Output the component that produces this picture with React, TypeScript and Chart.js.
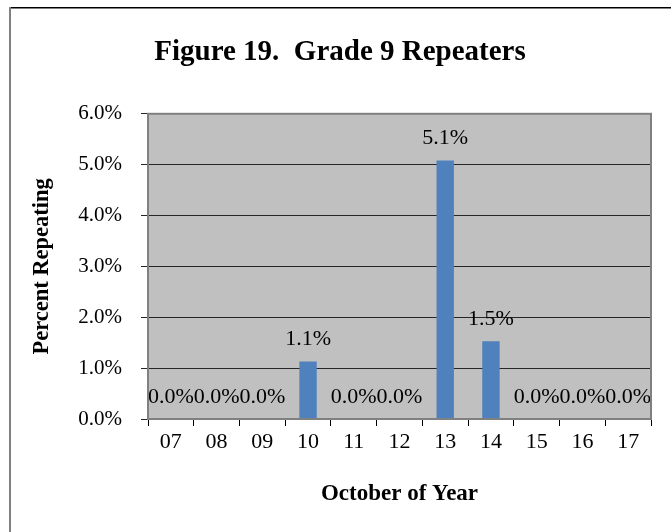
import React, { useEffect, useRef } from "react";
import { Chart, registerables } from "chart.js";

Chart.register(...registerables);

const categories = ["07", "08", "09", "10", "11", "12", "13", "14", "15", "16", "17"];
const percentRepeating = [0, 0, 0, 1.13, 0, 0, 5.08, 1.53, 0, 0, 0];
const yTicks = [0, 1, 2, 3, 4, 5, 6];

const chartTitle = "Figure 19.  Grade 9 Repeaters";
const yTitle = "Percent Repeating";
const xTitle = "October of Year";

const SERIF = "'Liberation Serif', 'Times New Roman', serif";

const framePlugin = {
  id: "frameAndBg",
  beforeDraw(chart: any) {
    const { ctx, chartArea } = chart;
    ctx.save();
    ctx.fillStyle = "#ffffff";
    ctx.fillRect(0, 0, chart.width, chart.height);
    ctx.fillStyle = "#C0C0C0";
    ctx.fillRect(chartArea.left, chartArea.top, chartArea.right - chartArea.left, chartArea.bottom - chartArea.top);
    ctx.restore();
  },
  afterDraw(chart: any) {
    const { ctx, chartArea } = chart;
    ctx.save();
    ctx.strokeStyle = "#808080";
    ctx.lineWidth = 2;
    ctx.strokeRect(chartArea.left, chartArea.top, chartArea.right - chartArea.left, chartArea.bottom - chartArea.top);
    ctx.strokeStyle = "#000000";
    ctx.lineWidth = 1.5;
    ctx.beginPath();
    ctx.moveTo(9, 7.75);
    ctx.lineTo(chart.width, 7.75);
    ctx.stroke();
    ctx.strokeStyle = "#808080";
    ctx.lineWidth = 2;
    ctx.beginPath();
    ctx.moveTo(10, 7);
    ctx.lineTo(10, chart.height);
    ctx.stroke();
    ctx.restore();
  },
};

const labelPlugin = {
  id: "valueLabels",
  afterDatasetsDraw(chart: any) {
    const { ctx } = chart;
    const meta = chart.getDatasetMeta(0);
    const data = chart.data.datasets[0].data as number[];
    ctx.save();
    ctx.font = `22px ${SERIF}`;
    ctx.fillStyle = "#000000";
    ctx.textAlign = "center";
    ctx.textBaseline = "middle";
    meta.data.forEach((bar: any, i: number) => {
      ctx.fillText(data[i].toFixed(1) + "%", bar.x, bar.y - 22);
    });
    ctx.restore();
  },
};

export default function App() {
  const ref = useRef<HTMLCanvasElement>(null);

  useEffect(() => {
    if (!ref.current) return;
    const chart = new Chart(ref.current, {
      type: "bar",
      data: {
        labels: categories,
        datasets: [
          {
            data: percentRepeating,
            backgroundColor: "#4F81BD",
            barPercentage: 0.38,
            categoryPercentage: 1,
          },
        ],
      },
      options: {
        responsive: false,
        animation: false,
        devicePixelRatio: 1,
        layout: { padding: { top: 0, left: 29, right: 20, bottom: 0 } },
        plugins: {
          legend: { display: false },
          tooltip: { enabled: false },
          title: {
            display: true,
            text: chartTitle,
            color: "#000",
            font: { family: SERIF, size: 29, weight: "bold" },
            padding: { top: 35, bottom: 44 },
          },
        },
        scales: {
          x: {
            offset: true,
            grid: {
              offset: true,
              drawOnChartArea: false,
              drawTicks: true,
              tickLength: 7,
              color: "#000",
            },
            border: { display: false },
            ticks: {
              color: "#000",
              font: { family: SERIF, size: 22 },
              padding: 3,
              maxRotation: 0,
              autoSkip: false,
            },
            title: {
              display: true,
              text: xTitle,
              color: "#000",
              font: { family: SERIF, size: 23, weight: "bold" },
              padding: { top: 0, bottom: 24 },
            },
            afterFit(scale: any) {
              scale.height = 113;
            },
          },
          y: {
            min: 0,
            max: 6,
            afterBuildTicks(scale: any) {
              scale.ticks = yTicks.map((v) => ({ value: v }));
            },
            grid: {
              color: "#262626",
              lineWidth: 1,
              drawTicks: true,
              tickLength: 7,
            },
            border: { display: false },
            ticks: {
              color: "#000",
              font: { family: SERIF, size: 21 },
              padding: 19,
              callback: (v: any) => Number(v).toFixed(1) + "%",
            },
            title: {
              display: true,
              text: yTitle,
              color: "#000",
              font: { family: SERIF, size: 22.5, weight: "bold" },
              padding: { top: 0, bottom: 0 },
            },
            afterFit(scale: any) {
              scale.width = 119;
            },
          },
        },
      },
      plugins: [framePlugin, labelPlugin],
    });
    return () => chart.destroy();
  }, []);

  return (
    <div style={{ position: "absolute", left: 0, top: 0, width: 671, height: 532 }}>
      <canvas ref={ref} width={671} height={532} style={{ display: "block", width: 671, height: 532 }} />
    </div>
  );
}
